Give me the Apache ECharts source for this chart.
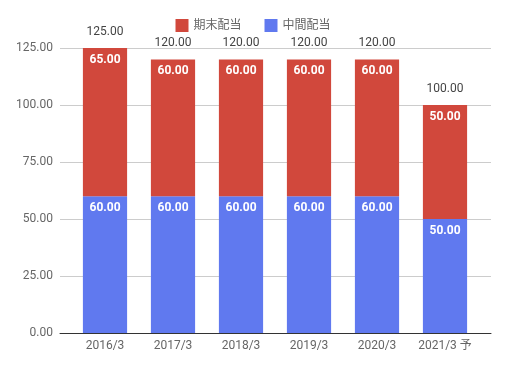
<!DOCTYPE html>
<html><head><meta charset="utf-8">
<script src="https://cdn.jsdelivr.net/npm/echarts@6/dist/echarts.min.js"></script>
<style>html,body{margin:0;padding:0;background:#fff}#c{width:506px;height:367px}</style>
</head><body><div id="c"></div>
<script>
const categories = ['2016/3','2017/3','2018/3','2019/3','2020/3','2021/3 予'];
const interimDiv = [60, 60, 60, 60, 60, 50];
const yearEndDiv = [65, 60, 60, 60, 60, 50];
const totals = [125, 120, 120, 120, 120, 100];
const yTicks = [0, 25, 50, 75, 100, 125];

const chart = echarts.init(document.getElementById('c'));
const font = 'Roboto, "Noto Sans CJK JP", sans-serif';
chart.setOption({
  animation: false,
  textStyle: {fontFamily: font},
  legend: {
    top: 14, left: 'center', itemWidth: 13, itemHeight: 13, itemGap: 23,
    icon: 'rect',
    data: ['期末配当', '中間配当'],
    textStyle: {color: '#666', fontSize: 12, fontFamily: font}
  },
  grid: [
    {left: 60, right: 15, top: 48, bottom: 34},
    {left: 71, right: 27, top: 48, bottom: 34}
  ],
  xAxis: [
    {type: 'category', gridIndex: 0, data: [''], axisLine: {show: true, lineStyle: {color: '#333'}}, axisTick: {show: false}, axisLabel: {show: false}},
    {type: 'category', gridIndex: 1, data: categories, axisLine: {show: false}, axisTick: {show: false},
     axisLabel: {color: '#666', fontSize: 12, margin: 7, interval: 0, fontFamily: font}}
  ],
  yAxis: [
    {type: 'value', gridIndex: 0, min: 0, max: 125, interval: 25,
     axisLine: {show: false}, axisTick: {show: false},
     axisLabel: {color: '#666', fontSize: 12, margin: 7, formatter: v => v.toFixed(2), fontFamily: font},
     splitLine: {lineStyle: {color: '#ccc'}}},
    {type: 'value', gridIndex: 1, min: 0, max: 125, interval: 25, show: false}
  ],
  series: [
    {name: '中間配当', type: 'bar', stack: 's', xAxisIndex: 1, yAxisIndex: 1, data: interimDiv,
     barCategoryGap: '35%', itemStyle: {color: '#6079ef'},
     label: {show: true, position: 'insideTop', distance: 6, color: '#fff', fontWeight: 'bold', fontSize: 12, formatter: p => p.value.toFixed(2)}},
    {name: '期末配当', type: 'bar', stack: 's', xAxisIndex: 1, yAxisIndex: 1, data: yearEndDiv,
     barCategoryGap: '35%', itemStyle: {color: '#d1483c'},
     label: {show: true, position: 'insideTop', distance: 6, color: '#fff', fontWeight: 'bold', fontSize: 12, formatter: p => p.value.toFixed(2)}},
    {name: 'total', type: 'bar', stack: 's', xAxisIndex: 1, yAxisIndex: 1, data: totals.map(() => 0),
     barCategoryGap: '35%', itemStyle: {color: 'transparent'},
     label: {show: true, position: 'top', distance: 10, color: '#444', fontSize: 12, formatter: p => totals[p.dataIndex].toFixed(2)}}
  ]
});
</script></body></html>
